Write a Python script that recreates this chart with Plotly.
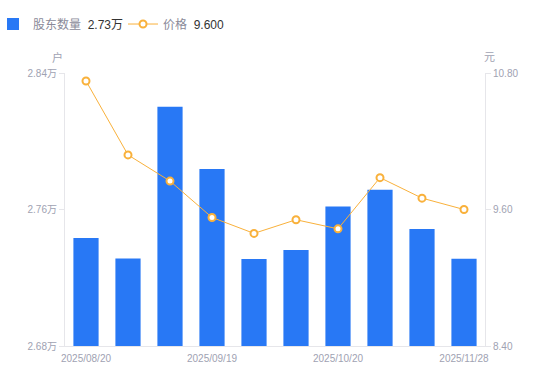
import plotly.graph_objects as go

dates = ["2025/08/20", "2025/08/29", "2025/09/10", "2025/09/19", "2025/09/30",
         "2025/10/10", "2025/10/20", "2025/10/31", "2025/11/14", "2025/11/28"]
holders = [27433, 27313, 28202, 27837, 27310, 27363, 27618, 27716, 27486, 27312]
price = [10.73, 10.08, 9.85, 9.53, 9.39, 9.51, 9.43, 9.88, 9.70, 9.60]

x_labels = ["2025/08/20", "2025/09/19", "2025/10/20", "2025/11/28"]
left_ticks = [26800, 27600, 28400]
left_ticktext = ["2.68万", "2.76万", "2.84万"]
right_ticks = [8.40, 9.60, 10.80]
right_ticktext = ["8.40", "9.60", "10.80"]

BLUE = "#2878F5"
ORANGE = "#F9B13B"
AXIS_TXT = "#A0A2B2"
AXIS_LINE = "#E6E6EA"
FONT = "Liberation Sans, Arial, Noto Sans CJK SC, sans-serif"

fig = go.Figure()
fig.add_trace(go.Bar(
    x=dates, y=holders, marker=dict(color=BLUE, line=dict(width=0)),
    name="股东数量  <span style='color:#333333'>2.73万</span>",
    yaxis="y", xaxis="x",
))
fig.add_trace(go.Scatter(
    x=dates, y=price, mode="lines+markers",
    line=dict(color=ORANGE, width=1),
    marker=dict(size=7, color="white", line=dict(color=ORANGE, width=2)),
    name="价格  <span style='color:#333333'>9.600</span>",
    yaxis="y2", xaxis="x",
))

fig.update_layout(
    width=550, height=381,
    margin=dict(l=65, r=65, t=73, b=35, autoexpand=False),
    paper_bgcolor="white", plot_bgcolor="white",
    font=dict(family=FONT, size=10, color=AXIS_TXT),
    bargap=0.4,
    showlegend=True,
    legend=dict(orientation="h", xref="paper", yref="container",
                x=-0.1714, y=0.975, xanchor="left", yanchor="top",
                font=dict(size=12, color="#8A8A99", family=FONT),
                itemwidth=30, entrywidth=85, entrywidthmode="pixels",
                traceorder="normal"),
    xaxis=dict(type="category", range=[-0.5, len(dates) - 0.5],
               tickmode="array", tickvals=x_labels, ticktext=x_labels,
               ticks="", tickfont=dict(size=10, color=AXIS_TXT),
               ticklabelstandoff=3,
               showline=True, linecolor=AXIS_LINE, linewidth=1,
               showgrid=False, zeroline=False),
    yaxis=dict(range=[26800, 28400], tickvals=left_ticks, ticktext=left_ticktext,
               showline=True, linecolor=AXIS_LINE, linewidth=1,
               ticks="outside", ticklen=5, tickcolor=AXIS_LINE,
               showgrid=False, zeroline=False, tickfont=dict(size=10, color=AXIS_TXT)),
    yaxis2=dict(range=[8.40, 10.80], tickvals=right_ticks, ticktext=right_ticktext,
                overlaying="y", side="right", anchor="x",
                showline=True, linecolor=AXIS_LINE, linewidth=1,
                ticks="outside", ticklen=5, tickcolor=AXIS_LINE,
                showgrid=False, zeroline=False, tickfont=dict(size=10, color=AXIS_TXT)),
    annotations=[
        dict(text="户", xref="paper", yref="paper", x=-0.0167, y=1.0586,
             xanchor="center", yanchor="middle", showarrow=False,
             font=dict(size=11, color=AXIS_TXT, family=FONT)),
        dict(text="元", xref="paper", yref="paper", x=1.0119, y=1.0586,
             xanchor="center", yanchor="middle", showarrow=False,
             font=dict(size=11, color=AXIS_TXT, family=FONT)),
    ],
)

fig.write_html("out.html", config={"displayModeBar": False},
               post_script="document.body.style.margin='0';")
